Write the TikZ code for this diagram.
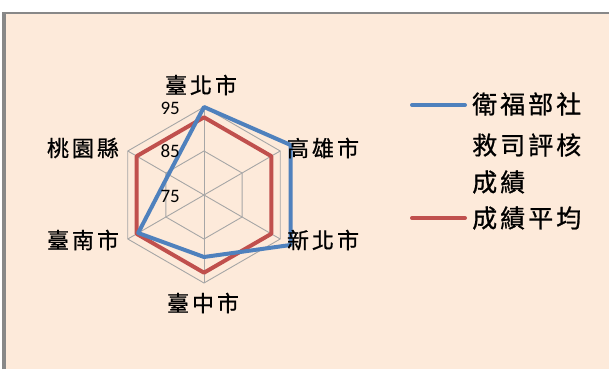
\documentclass[tikz,border=0pt]{standalone}
\usepackage{fontspec}
\setmainfont{Carlito}
\newfontfamily\cjk[FakeBold=0.8]{Noto Sans CJK TC}
\definecolor{bgpeach}{RGB}{253,234,218}
\definecolor{seriesblue}{RGB}{79,129,189}
\definecolor{seriesred}{RGB}{192,80,77}
\definecolor{gridgray}{RGB}{166,166,166}
\definecolor{framegray}{RGB}{136,136,136}
\tikzset{%
  city/.style={font=\cjk\fontsize{22}{26}\selectfont, inner sep=0pt},
  tick/.style={font=\fontsize{19}{22}\selectfont, inner sep=0pt, anchor=east},
  legendtext/.style={font=\cjk\fontsize{25}{30}\selectfont, inner sep=0pt, anchor=west},
  series/.style={line width=4pt, line join=round},
  gridline/.style={gridgray, line width=0.9pt}
}
\def\cgap{\kern3pt}

\begin{document}
\begin{tikzpicture}[x=1pt,y=1pt]
\useasboundingbox (0,0) rectangle (609,369);
\fill[bgpeach] (2,0) rectangle (609,357);
\draw[framegray, line width=2pt] (2,356) -- (609,356);
\draw[framegray, line width=3.5pt] (4,0) -- (4,357);
\begin{scope}[shift={(204,174)}]
% grid
\foreach \r in {44,88}
  \draw[gridline] (90:\r) \foreach \a in {30,-30,...,-210} {-- (\a:\r)} -- cycle;
\foreach \a in {90,30,...,-210}
  \draw[gridline] (0,0) -- (\a:88);
% series
\draw[series, seriesred] (90:77.7) \foreach \a in {30,-30,...,-210} {-- (\a:77.7)} -- cycle;
\draw[series, seriesblue] (90:88) -- (30:100) -- (-30:100) -- (-90:62) -- (-150:76) -- (150:41) -- cycle;
% ticks
\node[tick] (t95) at (-24,86.5) {95};
\node[tick] (t85) at (-24,43.5) {85};
\node[tick] (t75) at (-24,-1) {75};
% cities
\node[city] (taipei) at (-3,110) {臺\cgap 北\cgap 市};
\node[city] (kaohsiung) at (119,47) {高\cgap 雄\cgap 市};
\node[city] (newtaipei) at (119,-45) {新\cgap 北\cgap 市};
\node[city] (taichung) at (-1,-108) {臺\cgap 中\cgap 市};
\node[city] (tainan) at (-121,-45) {臺\cgap 南\cgap 市};
\node[city] (taoyuan) at (-121,47) {桃\cgap 園\cgap 縣};
\end{scope}
% legend
\coordinate (blueA) at (412,264);
\coordinate (blueB) at (465,264);
\coordinate (redA) at (412,151);
\coordinate (redB) at (465,151);
\draw[seriesblue, line width=4pt, line cap=round] (blueA) -- (blueB);
\draw[seriesred, line width=4pt, line cap=round] (redA) -- (redB);
\node[legendtext] (lgA) at (472,265) {衛\cgap 福\cgap 部\cgap 社};
\node[legendtext] (lgB) at (472,224) {救\cgap 司\cgap 評\cgap 核};
\node[legendtext] (lgC) at (472,187) {成\cgap 績};
\node[legendtext] (lgD) at (472,151) {成\cgap 績\cgap 平\cgap 均};
\end{tikzpicture}
\end{document}
